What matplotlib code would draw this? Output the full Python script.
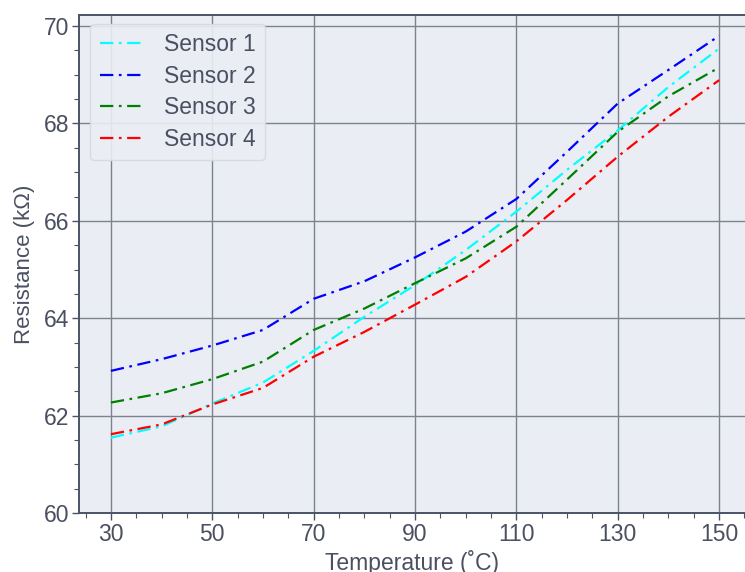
import matplotlib
matplotlib.use("Agg")
import matplotlib.pyplot as plt
from matplotlib.ticker import MultipleLocator

temperature = [30, 40, 50, 60, 70, 80, 90, 100, 110, 120, 130, 140, 150]
sensor1 = [61.55, 61.78, 62.25, 62.68, 63.33, 64.03, 64.68, 65.40, 66.19, 67.05, 67.86, 68.75, 69.54]
sensor2 = [62.92, 63.16, 63.44, 63.76, 64.40, 64.76, 65.25, 65.78, 66.45, 67.42, 68.41, 69.10, 69.80]
sensor3 = [62.27, 62.46, 62.75, 63.11, 63.76, 64.20, 64.72, 65.23, 65.88, 66.85, 67.83, 68.56, 69.15]
sensor4 = [61.62, 61.82, 62.23, 62.57, 63.21, 63.72, 64.28, 64.85, 65.58, 66.43, 67.32, 68.14, 68.89]
labels = ["Sensor 1", "Sensor 2", "Sensor 3", "Sensor 4"]
colors = ["#00FFFF", "#0000FF", "#008000", "#FF0000"]

plt.rcParams["font.family"] = ["Liberation Sans", "DejaVu Sans"]
TXT = "#4a5060"
AX = "#4b5366"
FS = 16.5

fig = plt.figure(figsize=(7.45, 5.72), dpi=100)
ax = fig.add_axes([0.106, 0.103, 0.894, 0.871])
ax.set_facecolor("#EAEDF3")

for ys, lab, c in zip([sensor1, sensor2, sensor3, sensor4], labels, colors):
    ax.plot(temperature, ys, color=c, lw=1.6, ls=(0, (6, 2.5, 1.2, 2.5)), label=lab)

ax.set_xlim(23.7, 155.1)
ax.set_ylim(60, 70.23)
ax.xaxis.set_minor_locator(MultipleLocator(5))
ax.set_xticks(range(30, 151, 20))
ax.yaxis.set_major_locator(MultipleLocator(2))
ax.yaxis.set_minor_locator(MultipleLocator(0.5))
ax.grid(True, which="major", color="#7d8291", lw=1.0)
ax.set_axisbelow(True)

for s in ["left", "bottom", "top"]:
    ax.spines[s].set_color(AX)
    ax.spines[s].set_linewidth(1.4)
ax.spines["right"].set_visible(False)
ax.tick_params(which="major", direction="out", length=5, color=AX, pad=2,
               labelsize=FS, labelcolor=TXT, width=1)
ax.tick_params(which="minor", direction="out", length=3.5, color=AX, width=0.8)

ax.set_xlabel("Temperature (˚C)", fontsize=FS, color=TXT, labelpad=3)
ax.set_ylabel("Resistance (kΩ)", fontsize=FS - 0.5, color=TXT, labelpad=6)

leg = ax.legend(loc="upper left", fontsize=FS, frameon=True, fancybox=True,
                handlelength=2.0, handletextpad=0.8, borderaxespad=0.5,
                labelspacing=0.38, borderpad=0.4, bbox_to_anchor=(0.0, 1.005))
leg.get_frame().set_facecolor("#EBEEF3")
leg.get_frame().set_edgecolor("#d5d8de")
leg.get_frame().set_alpha(0.9)
for t in leg.get_texts():
    t.set_color(TXT)

fig.savefig("out.png", dpi=100)
